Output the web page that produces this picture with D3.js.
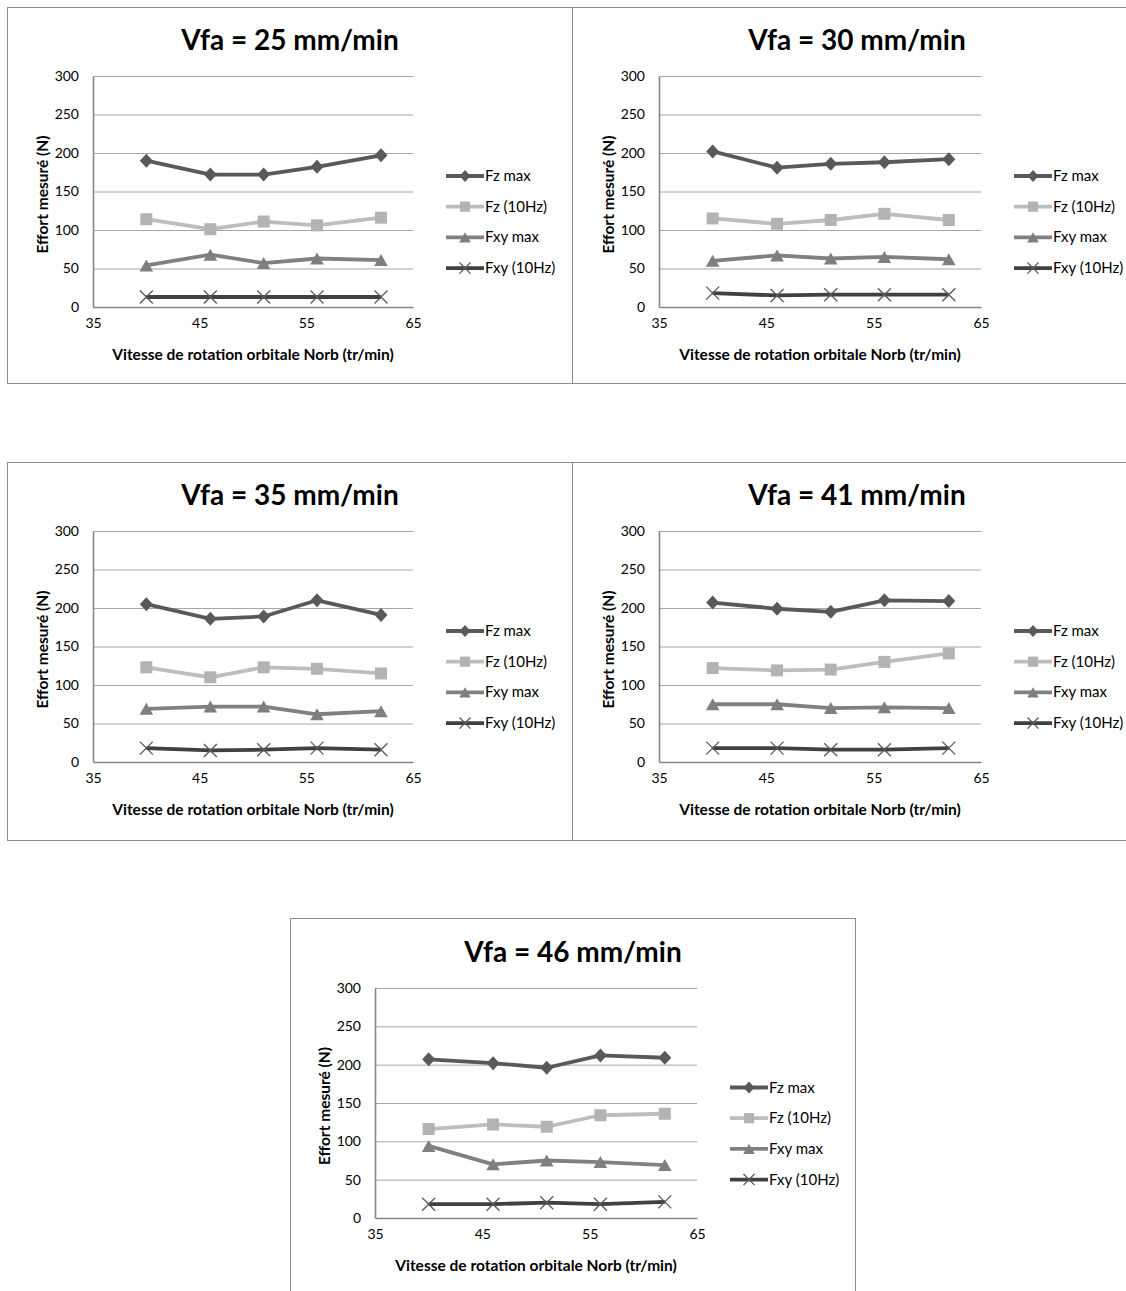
<!DOCTYPE html>
<html><head><meta charset="utf-8">
<script src="https://cdn.jsdelivr.net/npm/d3@7"></script>
<style>body{margin:0;background:#fff}svg{display:block}</style>
</head><body>
<svg id="c" width="1126" height="1291"></svg>
<script>
// ---- data ----
const norb = [40, 46, 51, 56, 62];
const seriesNames = ["Fz max", "Fz (10Hz)", "Fxy max", "Fxy (10Hz)"];
const chartTitles = ["Vfa = 25 mm/min", "Vfa = 30 mm/min", "Vfa = 35 mm/min", "Vfa = 41 mm/min", "Vfa = 46 mm/min"];
const xTicks = [35, 45, 55, 65];
const yTicks = [0, 50, 100, 150, 200, 250, 300];

const fzMax   = [[190,172,172,182,197],[202,181,186,188,192],[205,186,189,210,191],[207,199,195,210,209],[207,202,196,212,209]];
const fz10    = [[114,101,111,106,116],[115,108,113,121,113],[123,110,123,121,115],[122,119,120,130,141],[116,122,119,134,136]];
const fxyMax  = [[54,68,57,63,61],[60,67,63,65,62],[69,72,72,62,66],[75,75,70,71,70],[94,70,75,73,69]];
const fxy10   = [[13,13,13,13,13],[18,15,16,16,16],[18,15,16,18,16],[18,18,16,16,18],[18,18,20,18,21]];

// ---- layout ----
const panels = [
  {fx:7,   fy:7,   fw:565, fh:376, l:93,  r:413, t:76,  b:307},
  {fx:572, fy:7,   fw:560, fh:376, l:659, r:981, t:76,  b:307},
  {fx:7,   fy:462, fw:565, fh:378, l:93,  r:413, t:531, b:762},
  {fx:572, fy:462, fw:560, fh:378, l:659, r:981, t:531, b:762},
  {fx:290, fy:918, fw:565, fh:390, l:375, r:697, t:988, b:1218}
];
const styles = [
  {line:"#595959", mark:"#595959", sym:"diamond"},
  {line:"#bdbdbd", mark:"#b3b3b3", sym:"square"},
  {line:"#808080", mark:"#7f7f7f", sym:"triangle"},
  {line:"#404040", mark:"#595959", sym:"x"}
];
const font = "Lato, 'Open Sans', sans-serif";
const svg = d3.select("#c");

panels.forEach((p, i) => {
  const g = svg.append("g");
  g.append("rect").attr("x", p.fx + 0.5).attr("y", p.fy + 0.5).attr("width", p.fw).attr("height", p.fh)
    .attr("fill", "#fff").attr("stroke", "#8c8c8c").attr("stroke-width", 1);

  const x = d3.scaleLinear().domain([35, 65]).range([p.l, p.r]);
  const y = d3.scaleLinear().domain([0, 300]).range([p.b, p.t]);

  // gridlines
  g.append("g").selectAll("line").data(yTicks.slice(1)).join("line")
    .attr("x1", p.l).attr("x2", p.r).attr("y1", d => y(d) + 0.5).attr("y2", d => y(d) + 0.5)
    .attr("stroke", "#a6a6a6").attr("stroke-width", 1);

  // y axis
  const ya = g.append("g").attr("transform", `translate(${p.l},0)`)
    .call(d3.axisLeft(y).tickValues(yTicks).tickSize(0).tickPadding(14));
  ya.select(".domain").attr("stroke", "#868686").attr("stroke-width", 1.6);
  ya.selectAll("text").attr("font-family", font).attr("font-size", 14).attr("fill", "#000");

  // x axis
  const xa = g.append("g").attr("transform", `translate(0,${p.b})`)
    .call(d3.axisBottom(x).tickValues(xTicks).tickSize(0).tickPadding(11));
  xa.select(".domain").attr("stroke", "#868686").attr("stroke-width", 1.6);
  xa.selectAll("text").attr("font-family", font).attr("font-size", 14).attr("fill", "#000");

  // title
  g.append("text").attr("x", (p.l + p.r) / 2 + 37).attr("y", p.t - 26)
    .attr("text-anchor", "middle").attr("font-family", font).attr("font-weight", "bold")
    .attr("font-size", 28).attr("fill", "#000").text(chartTitles[i]);

  // axis titles
  g.append("text").attr("transform", `translate(${p.l - 45},${(p.t + p.b) / 2 + 3}) rotate(-90)`)
    .attr("text-anchor", "middle").attr("font-family", font).attr("font-weight", "bold")
    .attr("font-size", 15.5).attr("fill", "#000").text("Effort mesuré (N)");
  g.append("text").attr("x", (p.l + p.r) / 2).attr("y", p.b + 53)
    .attr("text-anchor", "middle").attr("font-family", font).attr("font-weight", "bold")
    .attr("font-size", 15.5).attr("fill", "#000").text("Vitesse de rotation orbitale Norb (tr/min)");

  const allSeries = [fzMax[i], fz10[i], fxyMax[i], fxy10[i]];
  const line = d3.line().x((d, k) => x(norb[k])).y(d => y(d));

  allSeries.forEach((vals, s) => {
    const st = styles[s];
    g.append("path").datum(vals).attr("d", line).attr("fill", "none")
      .attr("stroke", st.line).attr("stroke-width", 3.8).attr("stroke-linejoin", "round");
    const m = g.append("g").selectAll("g").data(vals).join("g")
      .attr("transform", (d, k) => `translate(${x(norb[k])},${y(d)})`);
    drawMarker(m, st);
  });

  // legend
  const lx = p.r + 33, ly0 = (p.t + p.b) / 2 - 15.5;
  seriesNames.forEach((name, s) => {
    const st = styles[s];
    const ly = ly0 + s * 30.7;
    g.append("line").attr("x1", lx).attr("x2", lx + 38).attr("y1", ly).attr("y2", ly)
      .attr("stroke", st.line).attr("stroke-width", 3.8);
    const m = g.append("g").attr("transform", `translate(${lx + 19},${ly})`);
    drawMarker(m, st, 0.85);
    g.append("text").attr("x", lx + 39).attr("y", ly + 5).attr("font-family", font)
      .attr("font-size", 15).attr("fill", "#000").text(name);
  });
});

function drawMarker(sel, st, k = 1) {
  if (st.sym === "x") {
    const r = 6.5 * k;
    sel.append("path").attr("d", `M${-r},${-r}L${r},${r}M${-r},${r}L${r},${-r}`)
      .attr("stroke", st.mark).attr("stroke-width", 1.3).attr("fill", "none");
  } else if (st.sym === "diamond") {
    const w = 6.5 * k, h = 7 * k;
    sel.append("path").attr("d", `M0,${-h}L${w},0L0,${h}L${-w},0Z`).attr("fill", st.mark);
  } else if (st.sym === "square") {
    const a = 6 * k;
    sel.append("path").attr("d", `M${-a},${-a}H${a}V${a}H${-a}Z`).attr("fill", st.mark);
  } else {
    const w = 6.8 * k, h = 6 * k;
    sel.append("path").attr("d", `M0,${-h}L${w},${h}L${-w},${h}Z`).attr("fill", st.mark);
  }
}
</script>
</body></html>
